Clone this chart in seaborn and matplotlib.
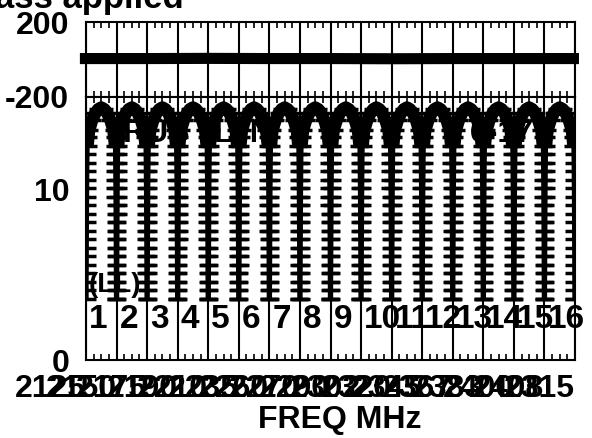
import pandas as pd
import matplotlib
matplotlib.use("Agg")
import matplotlib.pyplot as plt
from matplotlib.ticker import MultipleLocator, FixedLocator
import seaborn as sns

# ---------------------------
# data
# ---------------------------
channels = list(range(1, 17))

# one channel's response shape: position inside the channel (0..1) and level
profile_offset = [0.02, 0.02, 0.02, 0.022, 0.024, 0.025, 0.026, 0.028, 0.03, 0.03,
                  0.032, 0.034, 0.035, 0.037, 0.04, 0.042, 0.045, 0.048, 0.052, 0.056,
                  0.1, 0.2, 0.3, 0.4, 0.5, 0.6, 0.7, 0.8, 0.9,
                  0.944, 0.948, 0.952, 0.955, 0.958, 0.96, 0.963, 0.965, 0.966, 0.968,
                  0.97, 0.97, 0.972, 0.974, 0.975, 0.976, 0.976, 0.978, 0.98, 0.98, 0.98]
profile_level = [3.6, 4.1, 4.6, 5.1, 5.6, 6.1, 6.6, 7.1, 7.6, 8.1,
                 8.6, 9.1, 9.6, 10.1, 10.6, 11.1, 11.6, 12.1, 12.6, 13.1,
                 13.5, 14.1, 14.5, 14.75, 14.85, 14.75, 14.5, 14.1, 13.5,
                 13.1, 12.6, 12.1, 11.6, 11.1, 10.6, 10.1, 9.6, 9.1, 8.6,
                 8.1, 7.6, 7.1, 6.6, 6.1, 5.6, 5.1, 4.6, 4.1, 3.6, 3.6]
dome_offset = [0.045, 0.1, 0.2, 0.3, 0.4, 0.5, 0.6, 0.7, 0.8, 0.9, 0.955]
dome_level = [12.5, 13.5, 14.1, 14.5, 14.75, 14.85, 14.75, 14.5, 14.1, 13.5, 12.5]

# upper panel trace (almost flat)
top_x = [-0.2, 2, 4, 6, 8, 10, 12, 14, 16.13]
top_level = [5, 5, 6, 5, 5, 4, 5, 5, 5]

freq_labels = ["2125", "2150", "2175", "2190", "2210", "2235", "2260", "2270", "2290",
               "2302", "2320", "2345", "2367", "2383", "2400", "2408", "2315"]

rows = []
for ch in channels:
    for off, lev in zip(profile_offset, profile_level):
        rows.append({"ch": ch, "x": ch - 1 + off, "level": lev})
df = pd.DataFrame(rows)
dome = pd.DataFrame([{"ch": ch, "x": ch - 1 + o, "level": l}
                     for ch in channels for o, l in zip(dome_offset, dome_level)])
top = pd.DataFrame({"x": top_x, "level": top_level})

# ---------------------------
# figure
# ---------------------------
sns.set_style("white")
plt.rcParams["font.family"] = ["Liberation Sans", "DejaVu Sans"]
plt.rcParams["font.weight"] = "bold"
plt.rcParams["text.color"] = "black"
plt.rcParams["xtick.color"] = "black"
plt.rcParams["ytick.color"] = "black"
plt.rcParams["xtick.labelcolor"] = "black"
plt.rcParams["ytick.labelcolor"] = "black"

W, H = 592, 438
fig = plt.figure(figsize=(W / 100, H / 100), dpi=100)
left, right = 86, 575
ax_top = fig.add_axes([left / W, 1 - 97 / H, (right - left) / W, 75 / H])
ax = fig.add_axes([left / W, 1 - 360 / H, (right - left) / W, 263 / H])

for a in (ax_top, ax):
    a.set_xlim(0, 16)
    a.xaxis.set_major_locator(MultipleLocator(1))
    a.xaxis.set_minor_locator(MultipleLocator(0.25))
    a.grid(axis="x", which="major", color="black", lw=1.5)
    a.grid(axis="y", visible=False)
    for s in a.spines.values():
        s.set_color("black")
        s.set_linewidth(1.5)
    a.tick_params(axis="x", which="both", direction="in", top=True, bottom=True,
                  color="black", width=1.2)
    a.tick_params(axis="x", which="major", length=5)
    a.tick_params(axis="x", which="minor", length=4)
    a.tick_params(axis="y", direction="in", length=4, width=1.2, color="black",
                  labelsize=23, pad=12, labelcolor="black")

# upper panel
sns.lineplot(data=top, x="x", y="level", ax=ax_top, color="black", lw=8,
             clip_on=False, zorder=5, solid_capstyle="butt")
ax_top.set_ylim(-200, 200)
ax_top.yaxis.set_major_locator(FixedLocator([-200, 200]))
ax_top.set_yticklabels(["-200", "200"])
ax_top.tick_params(axis="x", labelbottom=False)
ax_top.set_xlabel("")
ax_top.set_ylabel("")

# lower panel
sns.lineplot(data=df, x="x", y="level", units="ch", estimator=None, sort=False,
             ax=ax, color="black", lw=3, marker="_", markersize=13, mew=2.5,
             mec="black", zorder=4)
sns.lineplot(data=dome, x="x", y="level", units="ch", estimator=None, sort=False,
             ax=ax, color="black", lw=9, zorder=4, solid_capstyle="butt")
ax.set_ylim(0, 15.47)
ax.yaxis.set_major_locator(FixedLocator([0, 10]))
ax.set_yticklabels(["0", "10"])
ax.xaxis.set_major_locator(FixedLocator(list(range(17))))
ax.set_xticklabels(freq_labels, fontsize=23, ha="right", color="black")
ax.tick_params(axis="x", which="major", pad=10)
ax.set_xlabel("")
ax.set_ylabel("")

# annotations
for ch in channels:
    ax.text(ch - 1 + 0.1, 2.4, str(ch), fontsize=24, ha="left", va="center",
            color="black", zorder=6)
ax.text(0.07, 4.4, "(LL)", fontsize=20, ha="left", va="center", color="black", zorder=3)
ax.text(1.2, 13.3, "RUS", fontsize=23, ha="left", va="center", color="black", zorder=1)
ax.text(4.2, 13.3, "LTN", fontsize=23, ha="left", va="center", color="black", zorder=1)
ax.text(12.57, 13.3, "6-17", fontsize=23, ha="left", va="center", color="black", zorder=1)

fig.text(340 / W, 1 - 420 / H, "FREQ MHz", fontsize=23, ha="center", va="center",
         color="black")
fig.text(184 / W, 1 - 8 / H, "Bandpass applied", fontsize=25, ha="right",
         va="baseline", color="black")

fig.savefig("out.png", dpi=100)
